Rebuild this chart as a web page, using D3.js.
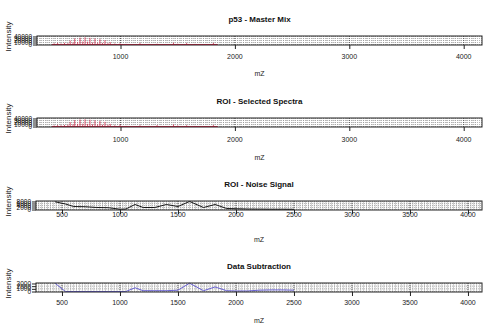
<!DOCTYPE html>
<html>
<head>
<meta charset="utf-8">
<script src="https://cdn.jsdelivr.net/npm/d3@7"></script>
<style>
  body { margin: 0; background: #fff; }
  svg { display: block; font-family: "Liberation Sans", Arial, sans-serif; }
</style>
</head>
<body>
<div id="chart"></div>
<script>
// Spectrum peaks (m/z, intensity)
const peakMz = [420, 450, 480, 510, 540, 560, 585, 600, 625, 646, 670, 690, 712, 733, 755, 777, 800, 820, 842, 864, 890, 910, 950, 996, 1050, 1170, 1250, 1320, 1463, 1500, 1578, 1650, 1812];
const peakMaster = [6000, 8000, 5000, 9000, 7000, 20000, 10000, 30000, 12000, 34000, 15000, 36000, 14000, 33000, 10000, 30000, 9000, 26000, 8000, 22000, 7000, 12000, 5000, 6000, 3000, 7000, 3000, 4000, 9000, 4000, 7000, 3000, 8000];
const peakSelected = [5000, 7000, 6000, 8000, 9000, 22000, 11000, 32000, 13000, 35000, 14000, 36000, 13000, 34000, 11000, 31000, 10000, 27000, 9000, 23000, 8000, 13000, 6000, 9000, 3000, 6000, 3000, 7000, 10000, 5000, 6000, 3000, 7000];
const baseMz = [400, 1850];

// Noise signal and subtraction, sampled along m/z
const lineMz = [440, 530, 600, 700, 800, 900, 1000, 1050, 1130, 1200, 1300, 1400, 1500, 1600, 1720, 1820, 1920, 2000, 2100, 2200, 2300, 2400, 2500];
const noise = [7700, 5500, 3000, 2800, 2000, 1800, 300, 500, 5000, 2000, 2000, 5000, 3000, 8000, 2000, 5000, 1000, 800, 500, 400, 300, 300, 200];
const subtraction = [3100, 0, 0, 0, 0, 0, 0, 0, 1400, 300, 300, 300, 500, 3100, 300, 1700, 300, 200, 200, 500, 600, 600, 500];

const ticksWide = [1000, 2000, 3000, 4000];
const ticksFine = [500, 1000, 1500, 2000, 2500, 3000, 3500, 4000];

const width = 500, height = 329;

const panels = [
  { title: "p53 - Master Mix", top: 36, h: 9, xd: [270, 4160], xr: [37, 482], xt: ticksWide, yMax: 40000, yStep: 10000, kind: "peaks", vals: peakMaster, color: "#d8284a", fine: false, labY: 57, mzY: 74 },
  { title: "ROI - Selected Spectra", top: 118, h: 9, xd: [270, 4160], xr: [37, 482], xt: ticksWide, yMax: 40000, yStep: 10000, kind: "peaks", vals: peakSelected, color: "#d8284a", fine: false, labY: 140, mzY: 158 },
  { title: "ROI - Noise Signal", top: 201, h: 9, xd: [276, 4121], xr: [36, 482], xt: ticksFine, yMax: 8000, yStep: 2000, kind: "line", vals: noise, color: "#000", fine: true, labY: 215, mzY: 240 },
  { title: "Data Subtraction", top: 283, h: 9, xd: [276, 4121], xr: [36, 482], xt: ticksFine, yMax: 3000, yStep: 1000, kind: "line", vals: subtraction, color: "#5a52d0", fine: true, labY: 303, mzY: 321 }
];

const svg = d3.select("#chart").append("svg")
  .attr("width", width)
  .attr("height", height);

panels.forEach(p => {
  const g = svg.append("g");
  const x = d3.scaleLinear().domain(p.xd).range(p.xr);
  const pad = p.yMax * 0.06;
  const y = d3.scaleLinear().domain([-pad, p.yMax + pad]).range([p.top + p.h, p.top]);
  const yTicks = d3.range(0, p.yMax + 1, p.yStep);

  // background grid
  const gridMz = d3.range(300, 4125, 25);
  g.append("g").selectAll("line").data(gridMz).join("line")
    .attr("x1", d => x(d)).attr("x2", d => x(d))
    .attr("y1", p.top).attr("y2", p.top + p.h)
    .attr("stroke", p.fine ? "#b4b4b4" : "#9a9a9a")
    .attr("stroke-width", 0.7)
    .attr("stroke-dasharray", p.fine ? null : "1,1");

  g.append("g").selectAll("line").data(yTicks).join("line")
    .attr("x1", p.xr[0]).attr("x2", p.xr[1])
    .attr("y1", d => y(d)).attr("y2", d => y(d))
    .attr("stroke", "#888")
    .attr("stroke-width", 0.6)
    .attr("stroke-dasharray", "1,1");

  g.append("g").selectAll("line").data(p.xt).join("line")
    .attr("x1", d => x(d)).attr("x2", d => x(d))
    .attr("y1", p.top).attr("y2", p.top + p.h)
    .attr("stroke", "#444")
    .attr("stroke-width", 0.8)
    .attr("stroke-dasharray", "1,1");

  // data
  if (p.kind === "peaks") {
    g.append("line")
      .attr("x1", x(baseMz[0])).attr("x2", x(baseMz[1]))
      .attr("y1", y(0)).attr("y2", y(0))
      .attr("stroke", p.color).attr("stroke-width", 1);
    g.append("g").selectAll("line").data(peakMz).join("line")
      .attr("x1", d => x(d)).attr("x2", d => x(d))
      .attr("y1", y(0)).attr("y2", (d, i) => y(p.vals[i]))
      .attr("stroke", p.color).attr("stroke-width", 0.8);
  } else {
    const line = d3.line().x((d, i) => x(lineMz[i])).y(d => y(d));
    g.append("path")
      .datum(p.vals)
      .attr("d", line)
      .attr("fill", "none")
      .attr("stroke", p.color)
      .attr("stroke-width", 0.9);
  }

  // box
  g.append("rect")
    .attr("x", p.xr[0]).attr("y", p.top)
    .attr("width", p.xr[1] - p.xr[0]).attr("height", p.h)
    .attr("fill", "none").attr("stroke", "#222").attr("stroke-width", 1);

  // x axis (tick marks from the axis, labels placed lower like the original)
  const xa = g.append("g")
    .attr("transform", `translate(0,${p.top + p.h})`)
    .call(d3.axisBottom(x).tickValues(p.xt).tickSize(4).tickFormat(""));
  xa.select(".domain").remove();
  xa.selectAll("line").attr("stroke", "#222");
  g.append("g").selectAll("text").data(p.xt).join("text")
    .attr("x", d => x(d)).attr("y", p.labY)
    .attr("text-anchor", "middle").attr("dominant-baseline", "middle")
    .attr("font-size", 7).attr("fill", "#222")
    .text(d => d);

  // y axis: labels overlap in the cramped panels, as in the original
  const ya = g.append("g")
    .attr("transform", `translate(${p.xr[0]},0)`)
    .call(d3.axisLeft(y).tickValues(yTicks).tickSize(4).tickPadding(1).tickFormat(d3.format("d")));
  ya.select(".domain").remove();
  ya.selectAll("line").attr("stroke", "#222");
  ya.selectAll("text").attr("font-size", 6.5).attr("fill", "#111")
    .attr("font-family", "Liberation Sans, Arial, sans-serif");

  // labels
  g.append("text")
    .attr("x", (p.xr[0] + p.xr[1]) / 2).attr("y", p.top - 16)
    .attr("text-anchor", "middle").attr("dominant-baseline", "middle")
    .attr("font-size", 8).attr("font-weight", "bold").attr("fill", "#111")
    .text(p.title);

  g.append("text")
    .attr("x", (p.xr[0] + p.xr[1]) / 2).attr("y", p.mzY)
    .attr("text-anchor", "middle").attr("dominant-baseline", "middle")
    .attr("font-size", 7).attr("fill", "#222")
    .text("mZ");

  g.append("text")
    .attr("transform", `translate(9,${p.top + p.h / 2 - 4}) rotate(-90)`)
    .attr("text-anchor", "middle").attr("dominant-baseline", "middle")
    .attr("font-size", 8).attr("fill", "#222")
    .text("Intensity");
});
</script>
</body>
</html>
